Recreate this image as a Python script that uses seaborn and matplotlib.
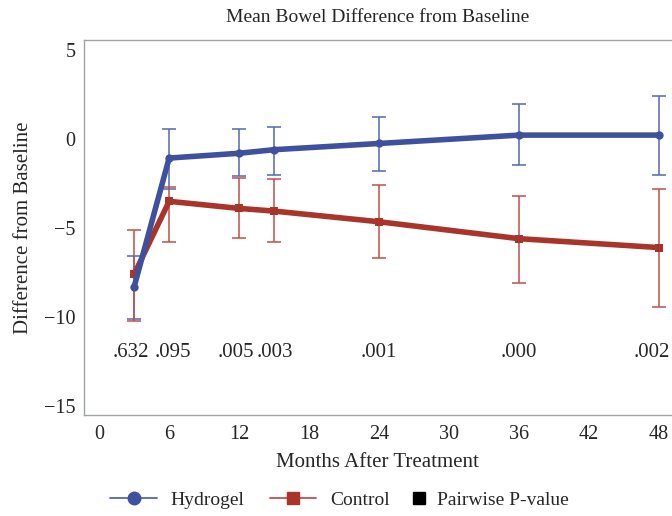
import numpy as np
import pandas as pd
import matplotlib
matplotlib.use("Agg")
import matplotlib.pyplot as plt
from matplotlib.lines import Line2D
import seaborn as sns

# Data
months = [3, 6, 12, 15, 24, 36, 48]
hydrogel_mean = [-8.3, -1.07, -0.8, -0.6, -0.25, 0.22, 0.22]
hydrogel_hi = [-6.6, 0.56, 0.55, 0.7, 1.25, 1.97, 2.4]
hydrogel_lo = [-10.1, -2.8, -2.1, -2.0, -1.8, -1.47, -2.0]
control_mean = [-7.6, -3.5, -3.9, -4.05, -4.65, -5.6, -6.1]
control_hi = [-5.1, -2.7, -2.2, -2.25, -2.6, -3.2, -2.8]
control_lo = [-10.2, -5.8, -5.55, -5.8, -6.7, -8.1, -9.45]
p_values = [".632", ".095", ".005", ".003", ".001", ".000", ".002"]
p_months = [2.7, 6.3, 11.7, 15.1, 24, 36, 47.4]

blue = "#3e519f"
blue_err = "#5567b0"
red = "#a8342a"
red_err = "#c0504a"
grey = "#a0a4a8"

sns.set_style("white")
plt.rcParams["font.family"] = ["Liberation Serif", "DejaVu Serif"]

df = pd.DataFrame({
    "month": months * 2,
    "value": hydrogel_mean + control_mean,
    "group": ["Hydrogel"] * len(months) + ["Control"] * len(months),
})

fig = plt.figure(figsize=(6.72, 5.16), dpi=100)
ax = fig.add_axes([0.125, 0.196, 0.874, 0.726])

# error bars
for mean, hi, lo, c in [(hydrogel_mean, hydrogel_hi, hydrogel_lo, blue_err),
                        (control_mean, control_hi, control_lo, red_err)]:
    mean = np.array(mean)
    yerr = [mean - np.array(lo), np.array(hi) - mean]
    ax.errorbar(months, mean, yerr=yerr, fmt="none", ecolor=c,
                elinewidth=1.1, capsize=5, capthick=1.1, zorder=2)

sns.lineplot(data=df[df.group == "Control"], x="month", y="value", color=red,
             linewidth=4, marker="s", markersize=6, markeredgewidth=0,
             ax=ax, zorder=3, legend=False)
sns.lineplot(data=df[df.group == "Hydrogel"], x="month", y="value", color=blue,
             linewidth=4, marker="o", markersize=6, markeredgewidth=0,
             ax=ax, zorder=4, legend=False)

# pairwise p-values
for m, p in zip(p_months, p_values):
    ax.text(m, -12.0, p, ha="center", va="center", fontsize=15)

ax.set_xlim(-1.3, 49.05)
ax.set_ylim(-15.5, 5.55)
ax.set_xticks(range(0, 49, 6))
ax.set_yticks([5, 0, -5, -10, -15])
ax.set_yticklabels(["5", "0", "\u22125", "\u221210", "\u221215"])

for s in ["left", "top", "bottom"]:
    ax.spines[s].set_color(grey)
    ax.spines[s].set_linewidth(1)
ax.spines["right"].set_visible(False)
ax.tick_params(axis="both", direction="in", length=7, color=grey,
               labelsize=14.5, width=1)
ax.tick_params(axis="x", pad=7)
ax.tick_params(axis="y", pad=6)

ax.set_xlabel("Months After Treatment", fontsize=15, labelpad=7)
ax.set_ylabel("Difference from Baseline", fontsize=15, labelpad=8)
ax.set_title("Mean Bowel Difference from Baseline", fontsize=14, pad=13)

handles = [
    Line2D([], [], color=blue_err, lw=1.3, marker="o", markersize=9,
           markerfacecolor=blue, markeredgecolor=blue),
    Line2D([], [], color=red_err, lw=1.3, marker="s", markersize=9,
           markerfacecolor=red, markeredgecolor=red),
]
fig.legend(handles, ["Hydrogel", "Control"],
           loc="center left", bbox_to_anchor=(0.164, 0.031), ncol=2, frameon=False,
           fontsize=14, handlelength=2.4, columnspacing=1.3, handletextpad=0.7,
           borderaxespad=0, borderpad=0)
sq = [Line2D([], [], color="black", lw=0, marker="s", markersize=8)]
fig.legend(sq, ["Pairwise P-value"], loc="center left",
           bbox_to_anchor=(0.612, 0.031), frameon=False, fontsize=14,
           handlelength=0.8, handletextpad=0.5, borderaxespad=0, borderpad=0)

fig.savefig("out.png", dpi=100)
